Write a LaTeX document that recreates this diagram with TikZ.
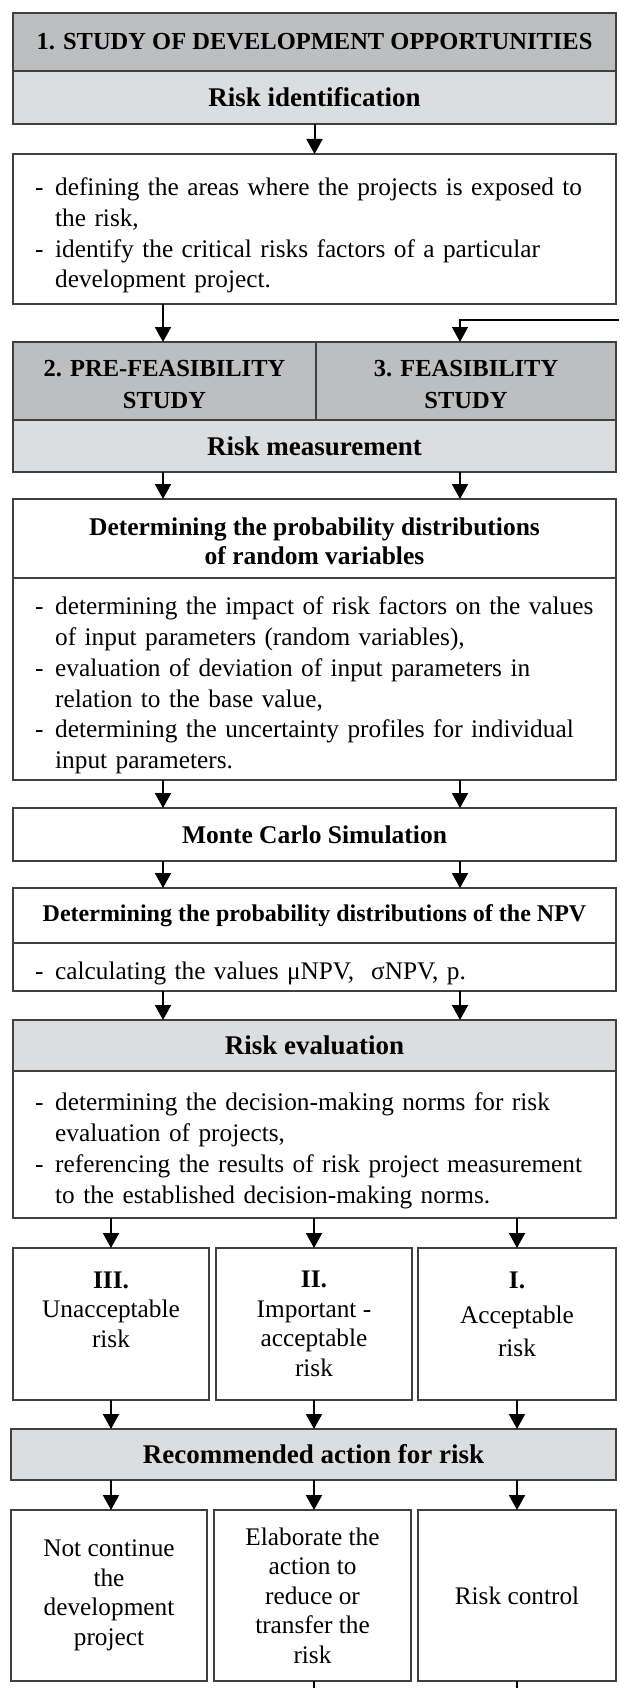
\documentclass[tikz,border=0pt]{standalone}
\usepackage{fontspec}
\setmainfont{Liberation Serif}
\usetikzlibrary{arrows.meta}
\definecolor{hdark}{HTML}{BCBEC0}
\definecolor{hlight}{HTML}{DCDDDF}
\definecolor{edgec}{HTML}{404040}
\newcommand{\itm}[1]{\par\hangindent=20pt\hangafter=1\noindent\makebox[20pt][l]{-}#1\par}
\tikzset{
  bx/.style={draw=edgec, line width=1.2pt, anchor=north west, inner sep=0pt, outer sep=0pt, align=center},
  dk/.style={bx, fill=hdark},
  lt/.style={bx, fill=hlight},
  arr/.style={line width=2pt, -{Triangle[width=16pt,length=15pt]}},
  thinarr/.style={line width=1.3pt, -{Triangle[width=16pt,length=15pt]}},
  ln/.style={line width=1.3pt},
  body/.style={font=\fontsize{25.3}{30.8}\selectfont},
  txt/.style={body, text width=578, align=left, anchor=west, inner sep=0pt},
  cls/.style={font=\fontsize{25.3}{29.5}\selectfont},
  ttl/.style={font=\fontsize{24.5}{32}\selectfont\bfseries},
  sub/.style={font=\fontsize{27}{32}\selectfont\bfseries},
  bh/.style={font=\fontsize{25.5}{29}\selectfont\bfseries},
  lbl/.style={align=center, inner sep=0pt},
}
\begin{document}
\begin{tikzpicture}[x=1pt,y=-1pt]
\useasboundingbox (0,0) rectangle (619,1688);
\coordinate (xl) at (163,0);
\coordinate (xr) at (460,0);
% 1
\node[dk, minimum width=603, minimum height=58, ttl] (t1) at (13,13) {1. STUDY OF DEVELOPMENT OPPORTUNITIES};
\node[lt, minimum width=603, minimum height=53, sub] (ri) at (13,71) {Risk identification};
\node[bx, minimum width=603, minimum height=150] (b1) at (13,154) {};
\node[txt] (b1t) at ([xshift=22pt]b1.west) {%
\itm{defining the areas where the projects is exposed to\newline the risk,}
\itm{identify the critical risks factors of a particular\newline development project.}};
% 2/3
\coordinate (fb) at (619,320);
\node[dk, minimum width=303, minimum height=78] (pf) at (13,342) {};
\node[dk, minimum width=300, minimum height=78] (fs) at (316,342) {};
\node[lbl, ttl] (pft) at ([yshift=-4pt]pf.center) {2. PRE-FEASIBILITY\\STUDY};
\node[lbl, ttl] (fst) at ([yshift=-4pt]fs.center) {3. FEASIBILITY\\STUDY};
\node[lt, minimum width=603, minimum height=52, sub] (rm) at (13,420) {Risk measurement};
% prob dist
\node[bx, minimum width=603, minimum height=79] (pdh) at (13,499) {};
\node[lbl, bh] (pdht) at ([yshift=-3pt]pdh.center) {Determining the probability distributions\\of random variables};
\node[bx, minimum width=603, minimum height=202] (pdb) at (13,578) {};
\node[txt] (pdbt) at ([xshift=22pt]pdb.west) {%
\itm{determining the impact of risk factors on the values\newline of input parameters (random variables),}
\itm{evaluation of deviation of input parameters in\newline relation to the base value,}
\itm{determining the uncertainty profiles for individual\newline input parameters.}};
\node[bx, minimum width=603, minimum height=53, bh] (mc) at (13,808) {Monte Carlo Simulation};
\node[bx, minimum width=603, minimum height=55, font=\fontsize{24}{30}\selectfont\bfseries] (nh) at (13,888) {Determining the probability distributions of the NPV};
\node[bx, minimum width=603, minimum height=48] (nb) at (13,943) {};
\node[txt] (nbt) at ([xshift=22pt]nb.west) {%
\itm{calculating the values μNPV,\ \ σNPV, p.}};
% evaluation
\node[lt, minimum width=603, minimum height=51, sub] (reh) at (13,1020) {Risk evaluation};
\node[bx, minimum width=603, minimum height=147] (reb) at (13,1071) {};
\node[txt] (rebt) at ([xshift=22pt]reb.west) {%
\itm{determining the decision-making norms for risk\newline evaluation of projects,}
\itm{referencing the results of risk project measurement\newline to the established decision-making norms.}};
% classes
\node[bx, minimum width=196, minimum height=152, cls] (c3) at (13,1248) {\textbf{III.}\\Unacceptable\\risk\\\mbox{}};
\node[bx, minimum width=196, minimum height=152, cls] (c2) at (216,1248) {\textbf{II.}\\Important -\\acceptable\\risk};
\node[bx, minimum width=198, minimum height=152, cls] (c1) at (418,1248) {\textbf{I.}\\[5.5pt]Acceptable\\[3.5pt]risk\\[-9pt]\mbox{}};
% recommended
\node[lt, minimum width=605, minimum height=51, sub] (rec) at (11,1429) {Recommended action for risk};
\node[bx, minimum width=196, minimum height=171, cls] (a3) at (11,1510) {Not continue\\the\\development\\project};
\node[bx, minimum width=197, minimum height=171, cls] (a2) at (214,1510) {Elaborate the\\action to\\reduce or\\transfer the\\risk};
\node[bx, minimum width=198, minimum height=171, cls] (a1) at (418,1510) {Risk control};
\coordinate (e2) at (a2.south |- 0,1688);
\coordinate (e1) at (a1.south |- 0,1688);
% connectors
\draw[arr] (ri.south) -- (b1.north);
\draw[arr] (b1.south -| xl) -- (pf.north -| xl);
\draw[thinarr] (fb) -| (fs.north -| xr);
\draw[arr] (rm.south -| xl) -- (pdh.north -| xl);
\draw[arr] (rm.south -| xr) -- (pdh.north -| xr);
\draw[arr] (pdb.south -| xl) -- (mc.north -| xl);
\draw[arr] (pdb.south -| xr) -- (mc.north -| xr);
\draw[arr] (mc.south -| xl) -- (nh.north -| xl);
\draw[arr] (mc.south -| xr) -- (nh.north -| xr);
\draw[arr] (nb.south -| xl) -- (reh.north -| xl);
\draw[arr] (nb.south -| xr) -- (reh.north -| xr);
\draw[arr] (reb.south -| c3.north) -- (c3.north);
\draw[arr] (reb.south -| c2.north) -- (c2.north);
\draw[arr] (reb.south -| c1.north) -- (c1.north);
\draw[arr] (c3.south) -- (rec.north -| c3.south);
\draw[arr] (c2.south) -- (rec.north -| c2.south);
\draw[arr] (c1.south) -- (rec.north -| c1.south);
\draw[arr] (rec.south -| c3.south) -- (a3.north -| c3.south);
\draw[arr] (rec.south -| c2.south) -- (a2.north -| c2.south);
\draw[arr] (rec.south -| c1.south) -- (a1.north -| c1.south);
\draw[ln] (a2.south -| c2.south) -- (e2 -| c2.south);
\draw[ln] (a1.south -| c1.south) -- (e1 -| c1.south);
\end{tikzpicture}
\end{document}
